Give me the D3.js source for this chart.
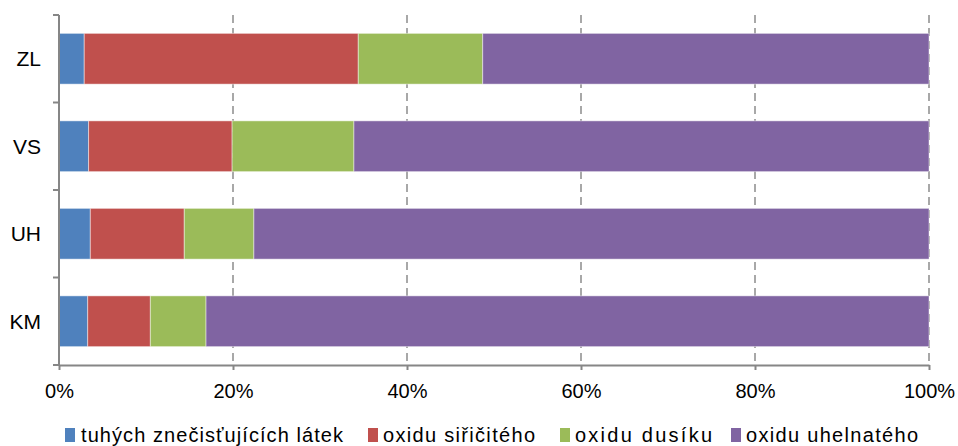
<!DOCTYPE html>
<html>
<head>
<meta charset="utf-8">
<script src="https://cdn.jsdelivr.net/npm/d3@7"></script>
<style>
  html, body { margin: 0; padding: 0; background: #fff; }
  svg { display: block; font-family: "Liberation Sans", Arial, sans-serif; }
</style>
</head>
<body>
<svg id="chart" width="958" height="446"></svg>
<script>
// Regions (top to bottom) and pollutant shares in percent
const categories = ["ZL", "VS", "UH", "KM"];
const seriesNames = ["tuhých znečisťujících látek", "oxidu siřičitého", "oxidu dusíku", "oxidu uhelnatého"];
const tuhe      = [2.9, 3.4, 3.6, 3.3];
const siricity  = [31.5, 16.5, 10.8, 7.2];
const dusik     = [14.3, 14.0, 8.0, 6.4];
const uhelnaty  = [51.3, 66.1, 77.6, 83.1];
const tickValues = [0, 0.2, 0.4, 0.6, 0.8, 1.0];
const colors = ["#4F81BD", "#C0504D", "#9BBB59", "#8064A2"];

const seriesValues = [tuhe, siricity, dusik, uhelnaty];
const rows = categories.map((c, i) => {
  const r = { cat: c };
  seriesNames.forEach((s, k) => r[s] = seriesValues[k][i]);
  return r;
});

const svg = d3.select("#chart");
const margin = { left: 59, top: 15, right: 29, bottom: 81 };
const W = 958 - margin.left - margin.right;
const H = 446 - margin.top - margin.bottom;
const g = svg.append("g").attr("transform", `translate(${margin.left},${margin.top})`);

const x = d3.scaleLinear().domain([0, 1]).range([0, W]);
const y = d3.scaleBand().domain(categories).range([0, H]).paddingInner(0.42).paddingOuter(0.21);

// normalised stack (100 %)
const stack = d3.stack().keys(seriesNames).offset(d3.stackOffsetExpand);
const layers = stack(rows);

// dashed vertical gridlines
g.append("g").selectAll("line")
  .data(tickValues.slice(1))
  .join("line")
  .attr("x1", d => x(d)).attr("x2", d => x(d))
  .attr("y1", 0).attr("y2", H)
  .attr("stroke", "#8c8c8c").attr("stroke-width", 1.5)
  .attr("stroke-dasharray", "8,5");

// bars
g.append("g").selectAll("g")
  .data(layers)
  .join("g")
  .attr("fill", (d, i) => colors[i])
  .selectAll("rect")
  .data(d => d)
  .join("rect")
  .attr("x", d => x(d[0]))
  .attr("y", d => y(d.data.cat))
  .attr("width", d => x(d[1]) - x(d[0]))
  .attr("height", y.bandwidth())
  .attr("stroke", "rgba(255,255,255,0.45)")
  .attr("stroke-width", 1);

// x axis
const xAxis = g.append("g").attr("transform", `translate(0,${H})`)
  .call(d3.axisBottom(x).tickValues(tickValues).tickFormat(d3.format(".0%")).tickSizeInner(5).tickSizeOuter(0).tickPadding(14));
xAxis.select(".domain").attr("stroke", "#868686").attr("stroke-width", 2);
xAxis.selectAll(".tick line").attr("stroke", "#868686").attr("stroke-width", 2);
xAxis.selectAll("text").attr("font-size", 20).attr("fill", "#000")
  .attr("font-family", "Liberation Sans, Arial, sans-serif");

// y axis with ticks between categories
const yAxisG = g.append("g");
yAxisG.append("line").attr("x1", 0).attr("x2", 0).attr("y1", 0).attr("y2", H)
  .attr("stroke", "#868686").attr("stroke-width", 2);
const step = H / categories.length;
yAxisG.selectAll("line.tk")
  .data(d3.range(categories.length + 1))
  .join("line").attr("class", "tk")
  .attr("x1", -6).attr("x2", 0)
  .attr("y1", d => d * step).attr("y2", d => d * step)
  .attr("stroke", "#868686").attr("stroke-width", 2);
yAxisG.selectAll("text")
  .data(categories)
  .join("text")
  .attr("x", -18)
  .attr("y", d => y(d) + y.bandwidth() / 2)
  .attr("dy", "0.36em")
  .attr("text-anchor", "end")
  .attr("font-size", 21)
  .text(d => d);

// legend
const legendItems = [
  { sx: 65, tx: 81, w: 262 },
  { sx: 368, tx: 383, w: 152 },
  { sx: 560, tx: 575, w: 137 },
  { sx: 731, tx: 746, w: 172 }
];
const legend = svg.append("g");
legend.selectAll("rect")
  .data(seriesNames)
  .join("rect")
  .attr("x", (d, i) => legendItems[i].sx)
  .attr("y", 428)
  .attr("width", 10).attr("height", 14)
  .attr("fill", (d, i) => colors[i]);
legend.selectAll("text")
  .data(seriesNames)
  .join("text")
  .attr("x", (d, i) => legendItems[i].tx)
  .attr("y", 442)
  .attr("font-size", 20)
  .attr("textLength", (d, i) => legendItems[i].w)
  .attr("lengthAdjust", "spacing")
  .text(d => d);
</script>
</body>
</html>
